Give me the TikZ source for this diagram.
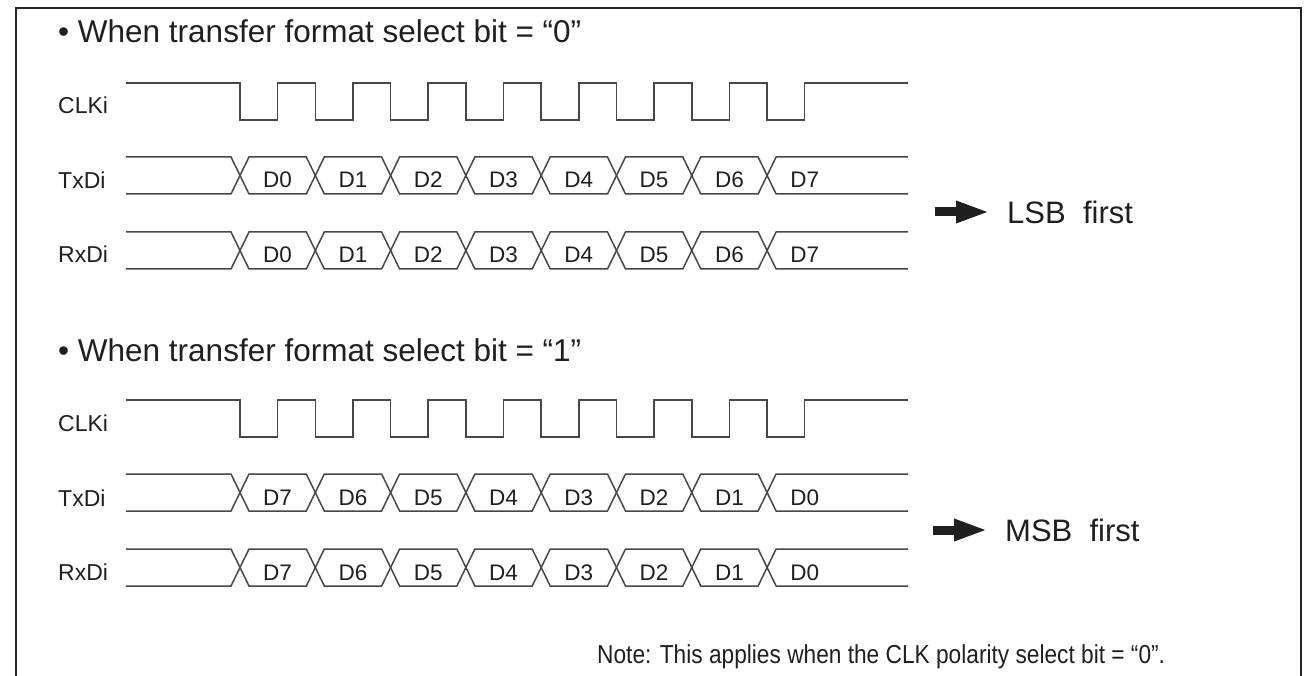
\documentclass[tikz,border=0pt]{standalone}
\usepackage{fontspec}
\setmainfont{Liberation Sans}
\usetikzlibrary{arrows.meta}

\begin{document}
\begin{tikzpicture}[x=1pt, y=-1pt,
    wave/.style={line width=1.5pt, draw=black!72},
    sig/.style={anchor=base west, inner sep=0pt, text=black!88, font=\fontsize{23}{27}\selectfont},
    bit/.style={anchor=base, inner sep=0pt, text=black!88, font=\fontsize{22.5}{26}\selectfont},
    head/.style={anchor=base west, inner sep=0pt, text=black!88, font=\fontsize{31.5}{36}\selectfont},
    order/.style={anchor=west, inner sep=0pt, text=black!88, font=\fontsize{31}{36}\selectfont},
    bigarrow/.style={line width=9pt, draw=black!88, -{Triangle[length=34pt, width=20pt]}, shorten >=17pt}]
    \useasboundingbox (0,0) rectangle (1304,676);

    % Frame (open at the bottom)
    \draw[line width=2.5pt, black!85] (16,676) -- (16,8) -- (1301,8) -- (1301,676);

    % Headings
    \node[head] (head0) at (58,43) {• When transfer format select bit = “0”};
    \node[head] (head1) at (58,361) {• When transfer format select bit = “1”};

    % Both timing charts, second one shifted down by 317
    \foreach \d/\tag in {0/lsb, 317/msb} {
        % Signal names
        \node[sig] (\tag-clk) at (58,{114+\d}) {CLKi};
        \node[sig] (\tag-tx) at (58,{189+\d}) {TxDi};
        \node[sig] (\tag-rx) at (58,{263+\d}) {RxDi};

        % Clock
        \draw[wave] (126,{83+\d}) foreach \k in {0,...,7} {
            -- ({240+75.3*\k},{83+\d}) -- ({240+75.3*\k},{120+\d})
            -- ({277.6+75.3*\k},{120+\d}) -- ({277.6+75.3*\k},{83+\d})
        } -- (908,{83+\d});

        % Data lines (TxD and RxD)
        \foreach \t/\line in {157/tx, 232/rx} {
            \pgfmathsetmacro\top{\t+\d}
            \pgfmathsetmacro\bot{\t+\d+37}
            \pgfmathsetmacro\mid{\t+\d+18.5}
            \draw[wave] (126,\top) -- (231,\top) -- (240,\mid) -- (231,\bot) -- (126,\bot);
            \foreach \k in {0,...,6} {
                \pgfmathsetmacro\fa{240+75.3*\k}
                \pgfmathsetmacro\fb{240+75.3*(\k+1)}
                \draw[wave] (\fa,\mid) -- ({\fa+9},\top) -- ({\fb-9},\top) -- (\fb,\mid)
                    -- ({\fb-9},\bot) -- ({\fa+9},\bot) -- cycle;
            }
            \draw[wave] (908,\top) -- (776.1,\top) -- (767.1,\mid) -- (776.1,\bot) -- (908,\bot);
            % Bit labels
            \foreach \k in {0,...,7} {
                \ifnum\d=0 \pgfmathtruncatemacro\b{\k}\else\pgfmathtruncatemacro\b{7-\k}\fi
                \node[bit] (\tag-\line-\k) at ({277.6+75.3*\k},{\bot-6}) {D\b};
            }
        }
    }

    % Bit order
    \node[order] (lsb) at (1007,212) {LSB~~first};
    \coordinate (lsbtail) at (935,212);
    \draw[bigarrow] (lsbtail) -- (lsb);

    \node[order] (msb) at (1005,530) {MSB~~first};
    \coordinate (msbtail) at (933,530);
    \draw[bigarrow] (msbtail) -- (msb);

    % Note
    \node[anchor=base west, inner sep=0pt, text=black!88, font=\fontsize{26}{30}\selectfont] (note) at (597,663)
        {\scalebox{0.873}[1]{Note: This applies when the CLK polarity select bit = “0”.}};
\end{tikzpicture}
\end{document}
